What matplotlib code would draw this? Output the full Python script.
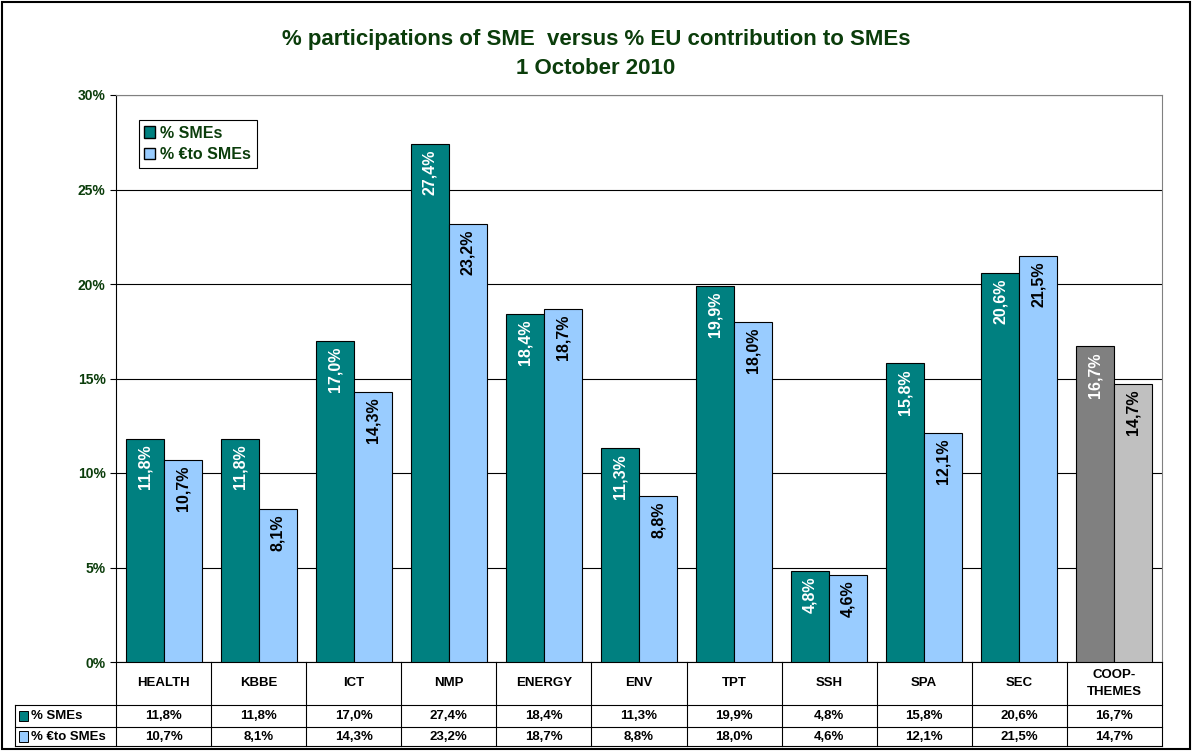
import matplotlib.pyplot as plt
from matplotlib.patches import Rectangle
import numpy as np

plt.rcParams['font.family'] = ['Liberation Sans', 'DejaVu Sans']

categories = ['HEALTH', 'KBBE', 'ICT', 'NMP', 'ENERGY', 'ENV', 'TPT', 'SSH', 'SPA', 'SEC', 'COOP-\nTHEMES']
sme_pct = [11.8, 11.8, 17.0, 27.4, 18.4, 11.3, 19.9, 4.8, 15.8, 20.6, 16.7]
eu_pct = [10.7, 8.1, 14.3, 23.2, 18.7, 8.8, 18.0, 4.6, 12.1, 21.5, 14.7]
series_names = ['% SMEs', '% \u20acto SMEs']
yticks = [0, 5, 10, 15, 20, 25, 30]

green = '#0b3d0b'
teal, lblue = '#008080', '#99ccff'
dgrey, lgrey = '#808080', '#c0c0c0'

fig = plt.figure(figsize=(11.92, 7.51), dpi=100)
ax = fig.add_axes([116/1192, 1-662/751, 1046/1192, 567/751])

n = len(categories)
x = np.arange(n)
w = 0.4
c1 = [teal]*(n-1) + [dgrey]
c2 = [lblue]*(n-1) + [lgrey]
b1 = ax.bar(x - w/2, sme_pct, w, color=c1, edgecolor='black', linewidth=0.8, zorder=3)
b2 = ax.bar(x + w/2, eu_pct, w, color=c2, edgecolor='black', linewidth=0.8, zorder=3)

for xi, v in zip(x, sme_pct):
    ax.text(xi - w/2, v - 0.3, f'{v:.1f}%'.replace('.', ','), rotation=90, ha='center', va='top',
            color='white', fontsize=11.5, fontweight='bold', zorder=4)
for xi, v in zip(x, eu_pct):
    ax.text(xi + w/2, v - 0.3, f'{v:.1f}%'.replace('.', ','), rotation=90, ha='center', va='top',
            color='black', fontsize=11.5, fontweight='bold', zorder=4)

ax.set_xlim(-0.5, n - 0.5)
ax.set_ylim(0, 30)
ax.set_yticks(yticks)
ax.set_yticklabels([f'{t}%' for t in yticks], color=green, fontsize=10, fontweight='bold')
ax.set_xticks([])
ax.yaxis.grid(True, color='black', linewidth=0.8, zorder=0)
for s in ['top', 'right']:
    ax.spines[s].set_color('#808080')
ax.spines['left'].set_color('black')
ax.spines['bottom'].set_color('black')
ax.tick_params(axis='y', length=4, width=0.8)

leg = ax.legend([Rectangle((0, 0), 1, 1, fc=teal, ec='black'), Rectangle((0, 0), 1, 1, fc=lblue, ec='black')],
                series_names, loc='upper left', bbox_to_anchor=(0.014, 0.97), fancybox=False,
                edgecolor='black', framealpha=1, handlelength=0.7, handleheight=0.7, handletextpad=0.3,
                borderpad=0.35, labelspacing=0.4, prop={'weight': 'bold', 'size': 11.5})
for t in leg.get_texts():
    t.set_color(green)
leg.get_frame().set_linewidth(0.8)

# data table under the axes
tr = ax.transAxes
h_head = -43/567
h_r1 = -65/567
h_r2 = -84/567
left_lab = (15 - 116)/1046
kw = dict(transform=tr, color='black', linewidth=0.8, clip_on=False)
for i in range(n + 1):
    ax.plot([i/n, i/n], [0, h_r2], **kw)
ax.plot([left_lab, 1], [h_head, h_head], **kw)
ax.plot([left_lab, 1], [h_r1, h_r1], **kw)
ax.plot([left_lab, 1], [h_r2, h_r2], **kw)
ax.plot([left_lab, left_lab], [h_head, h_r2], **kw)
for i, cat in enumerate(categories):
    xc = (i + 0.5)/n
    ax.text(xc, h_head/2, cat, transform=tr, ha='center', va='center', fontsize=9.5, fontweight='bold',
            linespacing=1.5)
    ax.text(xc, (h_head + h_r1)/2, f'{sme_pct[i]:.1f}%'.replace('.', ','), transform=tr, ha='center',
            va='center', fontsize=9.5, fontweight='bold')
    ax.text(xc, (h_r1 + h_r2)/2, f'{eu_pct[i]:.1f}%'.replace('.', ','), transform=tr, ha='center',
            va='center', fontsize=9.5, fontweight='bold')
for name, col, (ya, yb) in zip(series_names, [teal, lblue], [(h_head, h_r1), (h_r1, h_r2)]):
    ym = (ya + yb)/2
    ax.add_patch(Rectangle((left_lab + 0.004, ym - 0.0095), 0.0085, 0.019, transform=tr, fc=col,
                           ec='black', lw=0.7, clip_on=False))
    ax.text(left_lab + 0.015, ym, name, transform=tr, ha='left', va='center', fontsize=9.5,
            fontweight='bold')

fig.text(0.5, 1-40/751, '% participations of SME  versus % EU contribution to SMEs', ha='center', va='center',
         fontsize=16, fontweight='bold', color=green)
fig.text(0.5, 1-68/751, '1 October 2010', ha='center', va='center', fontsize=16, fontweight='bold', color=green)

fig.patches.append(Rectangle((0.002, 0.003), 0.996, 0.994, transform=fig.transFigure, fill=False,
                             ec='black', lw=1.5))

fig.savefig('out.png', dpi=100)
